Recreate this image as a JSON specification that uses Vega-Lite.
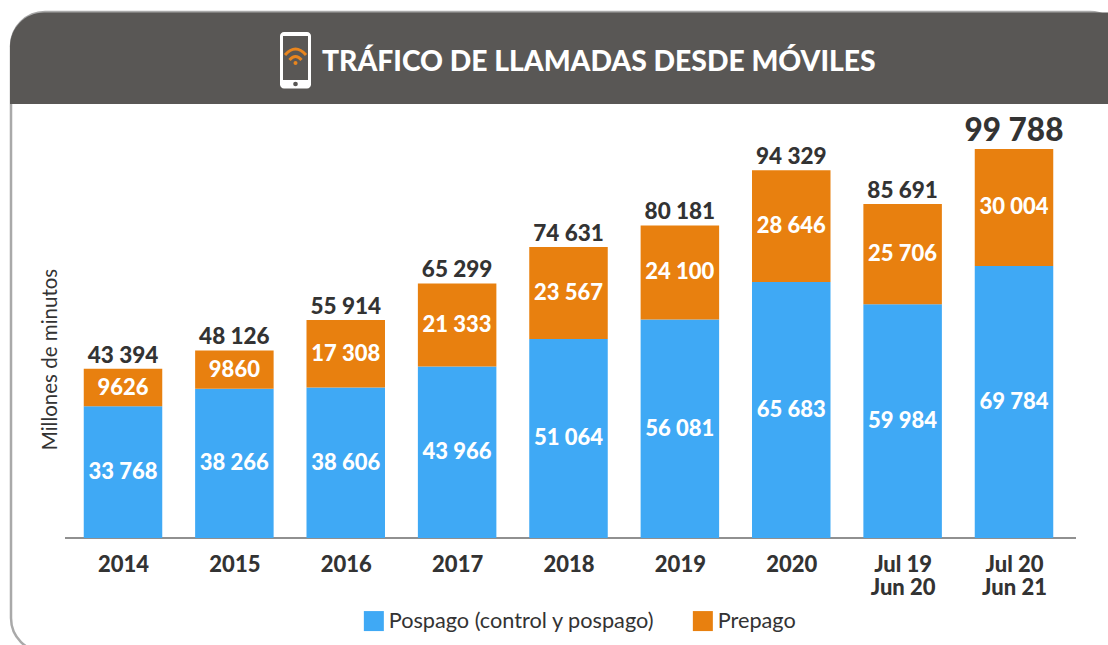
{
"$schema":"https://vega.github.io/schema/vega-lite/v6.json",
"width":1108,"height":645,"padding":0,"autosize":{"type":"none"},"background":"#ffffff",
"title":{"text":"TRÁFICO DE LLAMADAS DESDE MÓVILES","anchor":"start","frame":"group","orient":"top","dx":322,"dy":77,"offset":0,"fontSize":28.3,"font":"Lato","fontWeight":900,"color":"#ffffff","zindex":2},
"config":{"view":{"stroke":null},"font":"Lato"},
"layer":[
{"layer":[
 {"data":{"values":[{"left":11,"right":1124,"top":12,"bottom":652}]},
  "mark":{"type":"rect","fill":"#ffffff","stroke":"#a9a9a9","strokeWidth":2.5,"cornerRadius":34},
  "encoding":{"x":{"field":"left","type":"quantitative","scale":{"domain":[0,1108],"range":[0,1108],"nice":false,"zero":false},"axis":null},"x2":{"field":"right"},"y":{"field":"top","type":"quantitative","scale":{"domain":[645,0],"range":[645,0],"nice":false,"zero":false},"axis":null},"y2":{"field":"bottom"}}},
 {"data":{"values":[{"left":10,"right":1124,"top":12.5,"bottom":104}]},
  "mark":{"type":"rect","fill":"#595755","cornerRadiusTopLeft":34},
  "encoding":{"x":{"field":"left","type":"quantitative"},"x2":{"field":"right"},"y":{"field":"top","type":"quantitative"},"y2":{"field":"bottom"}}},
 {"data":{"values":[{"left":280,"right":311,"top":32,"bottom":88.5}]},
  "mark":{"type":"rect","fill":"#ffffff","cornerRadius":4},
  "encoding":{"x":{"field":"left","type":"quantitative"},"x2":{"field":"right"},"y":{"field":"top","type":"quantitative"},"y2":{"field":"bottom"}}},
 {"data":{"values":[{"left":283,"right":308,"top":36,"bottom":80}]},
  "mark":{"type":"rect","fill":"#595755"},
  "encoding":{"x":{"field":"left","type":"quantitative"},"x2":{"field":"right"},"y":{"field":"top","type":"quantitative"},"y2":{"field":"bottom"}}},
 {"data":{"values":[{"cx":295.5,"cy":84}]},
  "mark":{"type":"point","filled":true,"fill":"#595755","size":22,"opacity":1},
  "encoding":{"x":{"field":"cx","type":"quantitative"},"y":{"field":"cy","type":"quantitative"}}},
 {"data":{"values":[{"cx":295.5,"cy":63}]},
  "mark":{"type":"point","filled":true,"fill":"#e8851e","size":16,"opacity":1},
  "encoding":{"x":{"field":"cx","type":"quantitative"},"y":{"field":"cy","type":"quantitative"}}},
 {"data":{"values":[{"cx":295.5,"cy":56}]},
  "mark":{"type":"point","filled":false,"stroke":"#e8851e","strokeWidth":3,"size":4,"opacity":1,"shape":"M-10.5,-1 Q0,-13 10.5,-1 M-6,4 Q0,-3 6,4"},
  "encoding":{"x":{"field":"cx","type":"quantitative"},"y":{"field":"cy","type":"quantitative"}}},
 {"data":{"values":[{"left":65,"right":1076,"base":538}]},
  "mark":{"type":"rule","stroke":"#6b6b6b","strokeWidth":1.5},
  "encoding":{"x":{"field":"left","type":"quantitative"},"x2":{"field":"right"},"y":{"field":"base","type":"quantitative"}}}
]},
{"data":{"values":[
 {"period":"2014","serie":"Pospago (control y pospago)","value":33768,"order":1,"total":43394},
 {"period":"2014","serie":"Prepago","value":9626,"order":2,"total":43394},
 {"period":"2015","serie":"Pospago (control y pospago)","value":38266,"order":1,"total":48126},
 {"period":"2015","serie":"Prepago","value":9860,"order":2,"total":48126},
 {"period":"2016","serie":"Pospago (control y pospago)","value":38606,"order":1,"total":55914},
 {"period":"2016","serie":"Prepago","value":17308,"order":2,"total":55914},
 {"period":"2017","serie":"Pospago (control y pospago)","value":43966,"order":1,"total":65299},
 {"period":"2017","serie":"Prepago","value":21333,"order":2,"total":65299},
 {"period":"2018","serie":"Pospago (control y pospago)","value":51064,"order":1,"total":74631},
 {"period":"2018","serie":"Prepago","value":23567,"order":2,"total":74631},
 {"period":"2019","serie":"Pospago (control y pospago)","value":56081,"order":1,"total":80181},
 {"period":"2019","serie":"Prepago","value":24100,"order":2,"total":80181},
 {"period":"2020","serie":"Pospago (control y pospago)","value":65683,"order":1,"total":94329},
 {"period":"2020","serie":"Prepago","value":28646,"order":2,"total":94329},
 {"period":"Jul 19 Jun 20","serie":"Pospago (control y pospago)","value":59984,"order":1,"total":85691},
 {"period":"Jul 19 Jun 20","serie":"Prepago","value":25706,"order":2,"total":85691},
 {"period":"Jul 20 Jun 21","serie":"Pospago (control y pospago)","value":69784,"order":1,"total":99788},
 {"period":"Jul 20 Jun 21","serie":"Prepago","value":30004,"order":2,"total":99788}
]},
"transform":[
 {"stack":"value","groupby":["period"],"sort":[{"field":"order","order":"ascending"}],"as":["v0","v1"]},
 {"calculate":"(datum.v0+datum.v1)/2","as":"mid"},
 {"calculate":"datum.value<10000?''+datum.value:replace(format(datum.value,','),',',' ')","as":"valueText"},
 {"calculate":"replace(format(datum.total,','),',',' ')","as":"totalText"}
],
"encoding":{
 "x":{"field":"period","type":"ordinal","sort":null,
  "scale":{"type":"point","padding":0,"domain":["2014","2015","2016","2017","2018","2019","2020","Jul 19 Jun 20","Jul 20 Jun 21"],"range":[123,1014]},
  "axis":{"title":null,"orient":"bottom","offset":-107,"zindex":1,"domain":false,"ticks":false,"labelAngle":0,"labelPadding":16,"labelFontSize":22,"labelFont":"Lato","labelFontWeight":900,"labelColor":"#333333","labelOverlap":false,"labelBound":false,"labelLineHeight":23,"labelBaseline":"top",
   "labelExpr":"length(datum.label)>4?[slice(datum.label,0,6),slice(datum.label,7)]:datum.label"}}
},
"layer":[
 {"mark":{"type":"bar","width":78.5},
  "encoding":{
   "y":{"field":"v0","type":"quantitative","scale":{"domain":[-27448,138011],"range":[645,0],"nice":false,"zero":false},
     "axis":{"title":"Millones de minutos","orient":"left","zindex":1,"domain":false,"ticks":false,"labels":false,"grid":false,"titleFontSize":20.5,"titleFont":"Lato","titleFontWeight":"normal","titleColor":"#333333","titleX":50,"titleY":359,"titleAngle":-90,"titleAlign":"center","titleBaseline":"middle"}},
   "y2":{"field":"v1"},
   "color":{"field":"serie","type":"nominal","sort":null,
     "scale":{"domain":["Pospago (control y pospago)","Prepago"],"range":["#3fa9f5","#e8800f"]},
     "legend":{"title":null,"orient":"none","legendX":363,"legendY":610,"direction":"horizontal","symbolType":"square","symbolSize":400,"symbolStrokeWidth":0,"symbolOpacity":1,"labelFontSize":21.7,"labelFont":"Lato","labelColor":"#333333","labelOffset":4,"columnPadding":37,"padding":0,"labelLimit":400}}
  }},
 {"mark":{"type":"text","font":"Lato","fontWeight":900,"fontSize":22,"color":"#ffffff","baseline":"middle","align":"center"},
  "encoding":{"y":{"field":"mid","type":"quantitative"},"text":{"field":"valueText"}}},
 {"transform":[{"filter":"datum.order==2"}],
  "mark":{"type":"text","font":"Lato","fontWeight":900,"color":"#333333","baseline":"bottom","align":"center","dy":-1},
  "encoding":{"y":{"field":"v1","type":"quantitative"},"text":{"field":"totalText"},
   "size":{"condition":{"test":"datum.total>99000","value":31.5},"value":22.5}}}
]}
],
"resolve":{"scale":{"x":"independent","y":"independent"},"axis":{"x":"independent","y":"independent"}}
}
